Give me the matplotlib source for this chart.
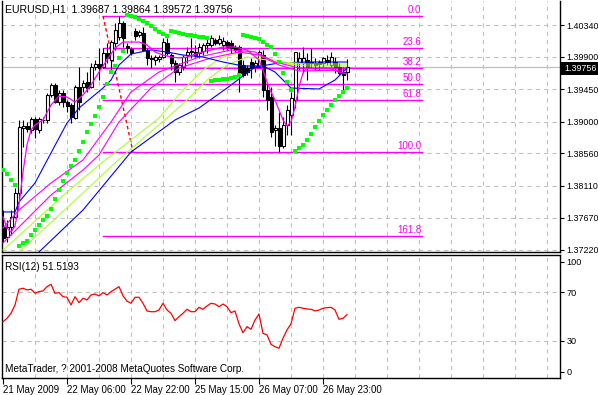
import matplotlib
matplotlib.use("Agg")
import matplotlib.pyplot as plt
from matplotlib.patches import Rectangle
import numpy as np

plt.rcParams['font.family'] = ['Liberation Sans', 'DejaVu Sans']
plt.rcParams['lines.scale_dashes'] = False

# ---------------- data ----------------
opens = [1.37539,1.37400,1.37539,1.37677,1.38010,1.38912,1.38939,1.38884,1.39037,1.38884,
         1.39023,1.39023,1.39369,1.39508,1.39272,1.39397,1.39272,1.39231,1.39050,1.39480,
         1.39480,1.39550,1.39480,1.39758,1.39799,1.39758,1.39952,1.39855,1.40091,1.40174,
         1.40368,1.40049,1.40007,1.40257,1.40202,1.40229,1.39994,1.39883,1.39855,1.39869,
         1.39896,1.40091,1.39924,1.39813,1.39688,1.39758,1.39924,1.39966,1.39966,1.39952,
         1.39980,1.40063,1.40063,1.40132,1.40091,1.40063,1.40104,1.40091,1.40035,1.40035,
         1.39785,1.39744,1.39827,1.39758,1.39758,1.39924,1.39439,1.39342,1.38884,1.38912,
         1.38662,1.38953,1.39092,1.39300,1.39813,1.39813,1.39855,1.39827,1.39813,1.39827,
         1.39813,1.39855,1.39785,1.39827,1.39758,1.39688,1.39687]
highs = [1.37774,1.37636,1.37774,1.38079,1.39023,1.39023,1.38995,1.39064,1.39064,1.39064,
         1.39064,1.39397,1.39536,1.39536,1.39439,1.39439,1.39300,1.39258,1.39508,1.39758,
         1.39577,1.39688,1.39813,1.39855,1.40021,1.40021,1.40091,1.40132,1.40368,1.40465,
         1.40396,1.40091,1.40035,1.40299,1.40271,1.40313,1.40021,1.39924,1.39924,1.39924,
         1.40160,1.40160,1.39952,1.39855,1.39813,1.39924,1.40035,1.40160,1.40063,1.40091,
         1.40091,1.40174,1.40202,1.40160,1.40202,1.40174,1.40132,1.40132,1.40063,1.40063,
         1.39855,1.39785,1.39883,1.39855,1.39994,1.39994,1.39536,1.39480,1.38953,1.39134,
         1.39064,1.39231,1.39411,1.39966,1.39966,1.40035,1.39952,1.40021,1.39883,1.39855,
         1.39896,1.39924,1.39966,1.39896,1.39813,1.39758,1.39864]
lows = [1.37331,1.37331,1.37428,1.37663,1.37913,1.38648,1.38856,1.38842,1.38773,1.38842,
        1.38981,1.38981,1.39342,1.39258,1.39231,1.39203,1.39134,1.38981,1.39037,1.39161,
        1.39411,1.39411,1.39466,1.39716,1.39577,1.39744,1.39813,1.39688,1.39994,1.40132,
        1.40035,1.39952,1.39924,1.40132,1.40174,1.39994,1.39785,1.39744,1.39785,1.39827,
        1.39883,1.39924,1.39716,1.39550,1.39647,1.39716,1.39813,1.39883,1.39896,1.39883,
        1.39924,1.39952,1.40035,1.40063,1.40063,1.39994,1.39994,1.39952,1.39952,1.39411,
        1.39619,1.39647,1.39605,1.39688,1.39744,1.39342,1.39161,1.38787,1.38662,1.38579,
        1.38634,1.38815,1.38815,1.39189,1.39716,1.39675,1.39577,1.39744,1.39716,1.39716,
        1.39758,1.39785,1.39758,1.39675,1.39647,1.39439,1.39572]
closes = [1.37386,1.37539,1.37677,1.38010,1.38926,1.38939,1.38898,1.39037,1.38898,1.39037,
          1.39016,1.39369,1.39508,1.39272,1.39397,1.39272,1.39217,1.39064,1.39480,1.39272,
          1.39536,1.39466,1.39758,1.39799,1.39744,1.39952,1.39883,1.40104,1.40271,1.40368,
          1.40160,1.40021,1.39952,1.40188,1.40243,1.39994,1.39883,1.39869,1.39896,1.39896,
          1.40104,1.39952,1.39813,1.39688,1.39785,1.39896,1.39966,1.39980,1.39924,1.40035,
          1.40063,1.40091,1.40160,1.40091,1.40146,1.40118,1.40035,1.40021,1.39994,1.39675,
          1.39647,1.39688,1.39744,1.39813,1.39966,1.39439,1.39300,1.38856,1.38912,1.38662,
          1.38953,1.39161,1.39328,1.39966,1.39883,1.39883,1.39744,1.39813,1.39785,1.39799,
          1.39883,1.39827,1.39896,1.39758,1.39675,1.39647,1.39756]
sar = [1.38329,1.38274,1.38190,1.38121,1.37275,1.37317,1.37344,1.37428,1.37497,1.37566,
       1.37636,1.37691,1.37788,1.37927,1.38052,1.38176,1.38287,1.38385,1.38468,1.38593,
       1.38717,1.38856,1.38967,1.39078,1.39203,1.39342,1.39522,1.39688,1.39772,1.39883,
       1.39980,1.40479,1.40465,1.40451,1.40423,1.40396,1.40368,1.40326,1.40285,1.40243,
       1.40215,1.40188,1.40257,1.40243,1.40229,1.40215,1.40202,1.40202,1.40188,1.40174,
       1.40174,1.40160,1.39564,1.39577,1.39577,1.39591,1.39591,1.39605,1.39619,1.39647,
       1.40202,1.40188,1.40174,1.40160,1.40146,1.40104,1.40063,1.40035,1.39938,1.39827,
       1.39675,1.39550,1.39439,1.38593,1.38634,1.38676,1.38745,1.38828,1.38926,1.39009,
       1.39092,1.39161,1.39231,1.39300,1.39355,1.39411,1.39466]
rsi = [45.7,48.5,52.6,59.4,72.3,73.1,71.7,72.3,69.0,70.3,
       70.9,74.4,76.3,69.0,69.5,66.2,65.7,59.4,66.2,61.3,
       64.9,63.5,67.6,68.4,66.8,69.5,67.6,70.3,72.3,74.4,
       67.0,62.5,60.8,65.7,65.7,60.8,54.5,53.9,53.9,55.3,
       60.8,55.3,52.6,46.6,49.8,52.6,55.9,53.9,53.9,57.5,
       55.9,58.6,60.8,60.2,58.0,60.2,58.0,53.1,54.5,44.0,
       36.7,41.7,39.5,47.1,52.0,36.2,34.9,27.2,25.3,24.0,
       32.2,39.0,44.0,56.7,57.5,56.7,56.1,55.9,54.5,55.3,
       56.7,57.2,57.5,55.3,47.7,48.5,51.5]

# moving averages (bar index, price)
ma_fast_idx = [0,1,2,3,4,5,6,7,8,10,12,14,16,18,20,22,24,26,28,30,32,34,36,38,40,42,44,46,49,52,
               55,58,61,64,65,66,67,68,69,70,71,72,73,74,75,76,78,80,82,84,86]
ma_fast = [1.37677,1.37525,1.37469,1.37552,1.37844,1.38301,1.38676,1.38884,1.38953,1.39023,
           1.39231,1.39355,1.39342,1.39272,1.39369,1.39508,1.39688,1.39855,1.40021,1.40104,
           1.40104,1.40104,1.40063,1.39966,1.39924,1.39896,1.39883,1.39896,1.39952,1.39994,
           1.40035,1.40035,1.39994,1.39855,1.39716,1.39550,1.39411,1.39300,1.39161,1.39023,
           1.38939,1.38995,1.39203,1.39480,1.39675,1.39744,1.39730,1.39744,1.39730,1.39688,1.39661]
ma_mid1_idx = [0,4,12,20,27,32,39,49,57,63,68,74,86]
ma_mid1 = [1.37525,1.37774,1.38149,1.38468,1.38995,1.39411,1.39688,1.39896,1.39994,1.39966,
           1.39827,1.39744,1.39744]
ma_mid2_idx = [0,12,20,24,29,37,44,52,59,64,69,74,86]
ma_mid2 = [1.37317,1.37982,1.38329,1.38537,1.38995,1.39466,1.39744,1.39883,1.39966,1.39924,
           1.39785,1.39702,1.39716]
ma_gy1_idx = [0,2,16,24,32,39,45,50,55,60,65,70,76,86]
ma_gy1 = [1.37220,1.37317,1.38024,1.38399,1.38745,1.39050,1.39439,1.39716,1.39896,1.39966,
          1.39896,1.39827,1.39799,1.39799]
ma_gy2_idx = [4,20,28,36,41,46,51,56,61,66,71,76,86]
ma_gy2 = [1.37192,1.38010,1.38426,1.38815,1.39050,1.39300,1.39577,1.39785,1.39896,1.39855,
          1.39799,1.39772,1.39772]
ma_slow_idx = [9,20,32,43,49,56,63,69,76,86]
ma_slow = [1.37192,1.37774,1.38579,1.39023,1.39189,1.39466,1.39758,1.39813,1.39827,1.39827]
ma_blue_idx = [0,3,4,8,12,16,19,22,25,27,29,32,37,41,45,50,55,60,65,68,70,72,79,83,86]
ma_blue = [1.37747,1.37747,1.37885,1.38149,1.38565,1.38981,1.39189,1.39328,1.39466,1.39577,
           1.39785,1.39938,1.39994,1.39966,1.39924,1.39896,1.39827,1.39772,1.39772,1.39688,
           1.39577,1.39466,1.39453,1.39577,1.39744]

fib_labels = ['0.0', '23.6', '38.2', '50.0', '61.8', '100.0', '161.8']
fib_prices = [1.40465, 1.40020, 1.39745, 1.39522, 1.39300, 1.38579, 1.37413]
fib_anchor_idx = [25, 32.5]
fib_anchor_price = [1.40465, 1.38579]

price_ticks = [1.40340, 1.39900, 1.39450, 1.39000, 1.38560, 1.38110, 1.37670, 1.37220]
price_labels = ['1.40340', '1.39900', '1.39450', '1.39000', '1.38560', '1.38110', '1.37670', '1.37220']
last_price = 1.39756
time_idx = [0, 16, 32, 48, 64, 80]
time_labels = ['21 May 2009', '22 May 06:00', '22 May 22:00', '25 May 15:00', '26 May 07:00', '26 May 23:00']

# ---------------- layout ----------------
W, H = 598, 395
fig = plt.figure(figsize=(W / 100, H / 100), dpi=100)
fig.patch.set_facecolor('white')
L, R = 2, 560
ax = fig.add_axes([L / W, 1 - 252 / H, (R - L) / W, (252 - 1) / H])
rax = fig.add_axes([L / W, 1 - 377.6 / H, (R - L) / W, (377.6 - 254.5) / H])

def px_to_bar(px):
    return (px - 3) / 4.0

def py_to_price(py):
    return 1.40687 - 0.0001387 * py

xlim = (px_to_bar(L), px_to_bar(R))
for a in (ax, rax):
    a.set_xlim(*xlim)
    a.set_facecolor('white')
ax.set_ylim(py_to_price(252), py_to_price(1))
rax.set_ylim(0, 100.7)

GRID = '#c0c0c0'
DASH = (0, (3, 3))
for k in range(1, 18):
    for a in (ax, rax):
        a.axvline(8 * k, color=GRID, lw=0.8, ls=DASH, zorder=0)
for p in price_ticks:
    ax.axhline(p, color=GRID, lw=0.8, ls=DASH, zorder=0)
for v in (30, 70):
    rax.axhline(v, color=GRID, lw=0.8, ls=DASH, zorder=0)

# current price line
ax.axhline(last_price, color='#c0c0c0', lw=0.9, zorder=1)

# fibonacci
for lab, p in zip(fib_labels, fib_prices):
    ax.plot([25, 104.75], [p, p], color='#ff00ff', lw=1.0, zorder=2)
    ax.annotate(lab, xy=(104.6, p), xytext=(0, 0.8), textcoords='offset points',
                ha='right', va='bottom', color='#ff00ff', fontsize=7, zorder=6)
ax.plot(fib_anchor_idx, fib_anchor_price, color='#ff0000', lw=1.0, ls=(0, (2.5, 2)), zorder=2)

# candles
for i, (o, h, l, c) in enumerate(zip(opens, highs, lows, closes)):
    ax.vlines(i, l, h, color='black', lw=0.8, zorder=3)
    bottom = min(o, c)
    height = max(abs(c - o), 0.00001)
    fc = 'white' if c >= o else 'black'
    ax.add_patch(Rectangle((i - 0.375, bottom), 0.75, height, facecolor=fc,
                           edgecolor='black', lw=0.8, zorder=3))

# moving averages
ax.plot(ma_slow_idx, ma_slow, color='#0000ff', lw=0.8, zorder=4)
ax.plot(ma_gy2_idx, ma_gy2, color='#adff2f', lw=0.8, zorder=4)
ax.plot(ma_gy1_idx, ma_gy1, color='#adff2f', lw=0.8, zorder=4)
ax.plot(ma_mid2_idx, ma_mid2, color='#ff00ff', lw=0.8, zorder=4)
ax.plot(ma_mid1_idx, ma_mid1, color='#ff00ff', lw=0.8, zorder=4)
ax.plot(ma_blue_idx, ma_blue, color='#0000ff', lw=0.8, zorder=4)
ax.plot(ma_fast_idx, ma_fast, color='#ff00ff', lw=0.9, zorder=4)

# parabolic SAR
ax.plot(range(len(sar)), sar, 's', color='#00ff00', ms=3, mew=0, zorder=5)

# axes styling main
ax.spines['top'].set_visible(False)
for s in ('left', 'right', 'bottom'):
    ax.spines[s].set_linewidth(1.0)
ax.tick_params(axis='x', bottom=False, labelbottom=False)
ax.yaxis.tick_right()
ax.set_yticks(price_ticks)
ax.set_yticklabels(price_labels)
ax.tick_params(axis='y', right=True, left=False, direction='out', length=3, width=0.8,
               labelsize=6.4, pad=1.5)

ax.text(0.005, 0.965, 'EURUSD,H1  1.39687 1.39864 1.39572 1.39756', transform=ax.transAxes,
        fontsize=7.6, ha='left', va='center')

# current price box
fig.add_artist(Rectangle((561 / W, 1 - 75 / H), 37 / W, 13 / H, transform=fig.transFigure,
                         facecolor='black', edgecolor='none'))
fig.text(564.5 / W, 1 - 68.5 / H, '1.39756', color='white', fontsize=6.4, ha='left', va='center')

# RSI
rax.plot(range(len(rsi)), rsi, color='#ff0000', lw=0.9, zorder=3)
for s in rax.spines.values():
    s.set_linewidth(1.0)
rax.yaxis.tick_right()
rax.set_yticks([4.6, 30, 70, 94.6])
rax.set_yticklabels(['0', '30', '70', '100'])
rax.tick_params(axis='y', right=True, left=False, direction='out', length=3, width=0.8,
                labelsize=6.6, pad=1.5)
rax.set_xticks(time_idx)
rax.set_xticklabels(time_labels, ha='left')
rax.tick_params(axis='x', direction='out', length=4, width=0.8, labelsize=7, pad=1)
rax.text(0.005, 0.90, 'RSI(12) 51.5193', transform=rax.transAxes, fontsize=7.2,
         ha='left', va='center')
rax.text(0.005, 0.07, 'MetaTrader, ? 2001-2008 MetaQuotes Software Corp.',
         transform=rax.transAxes, fontsize=7.2, ha='left', va='center')

fig.savefig('out.png', dpi=100)
